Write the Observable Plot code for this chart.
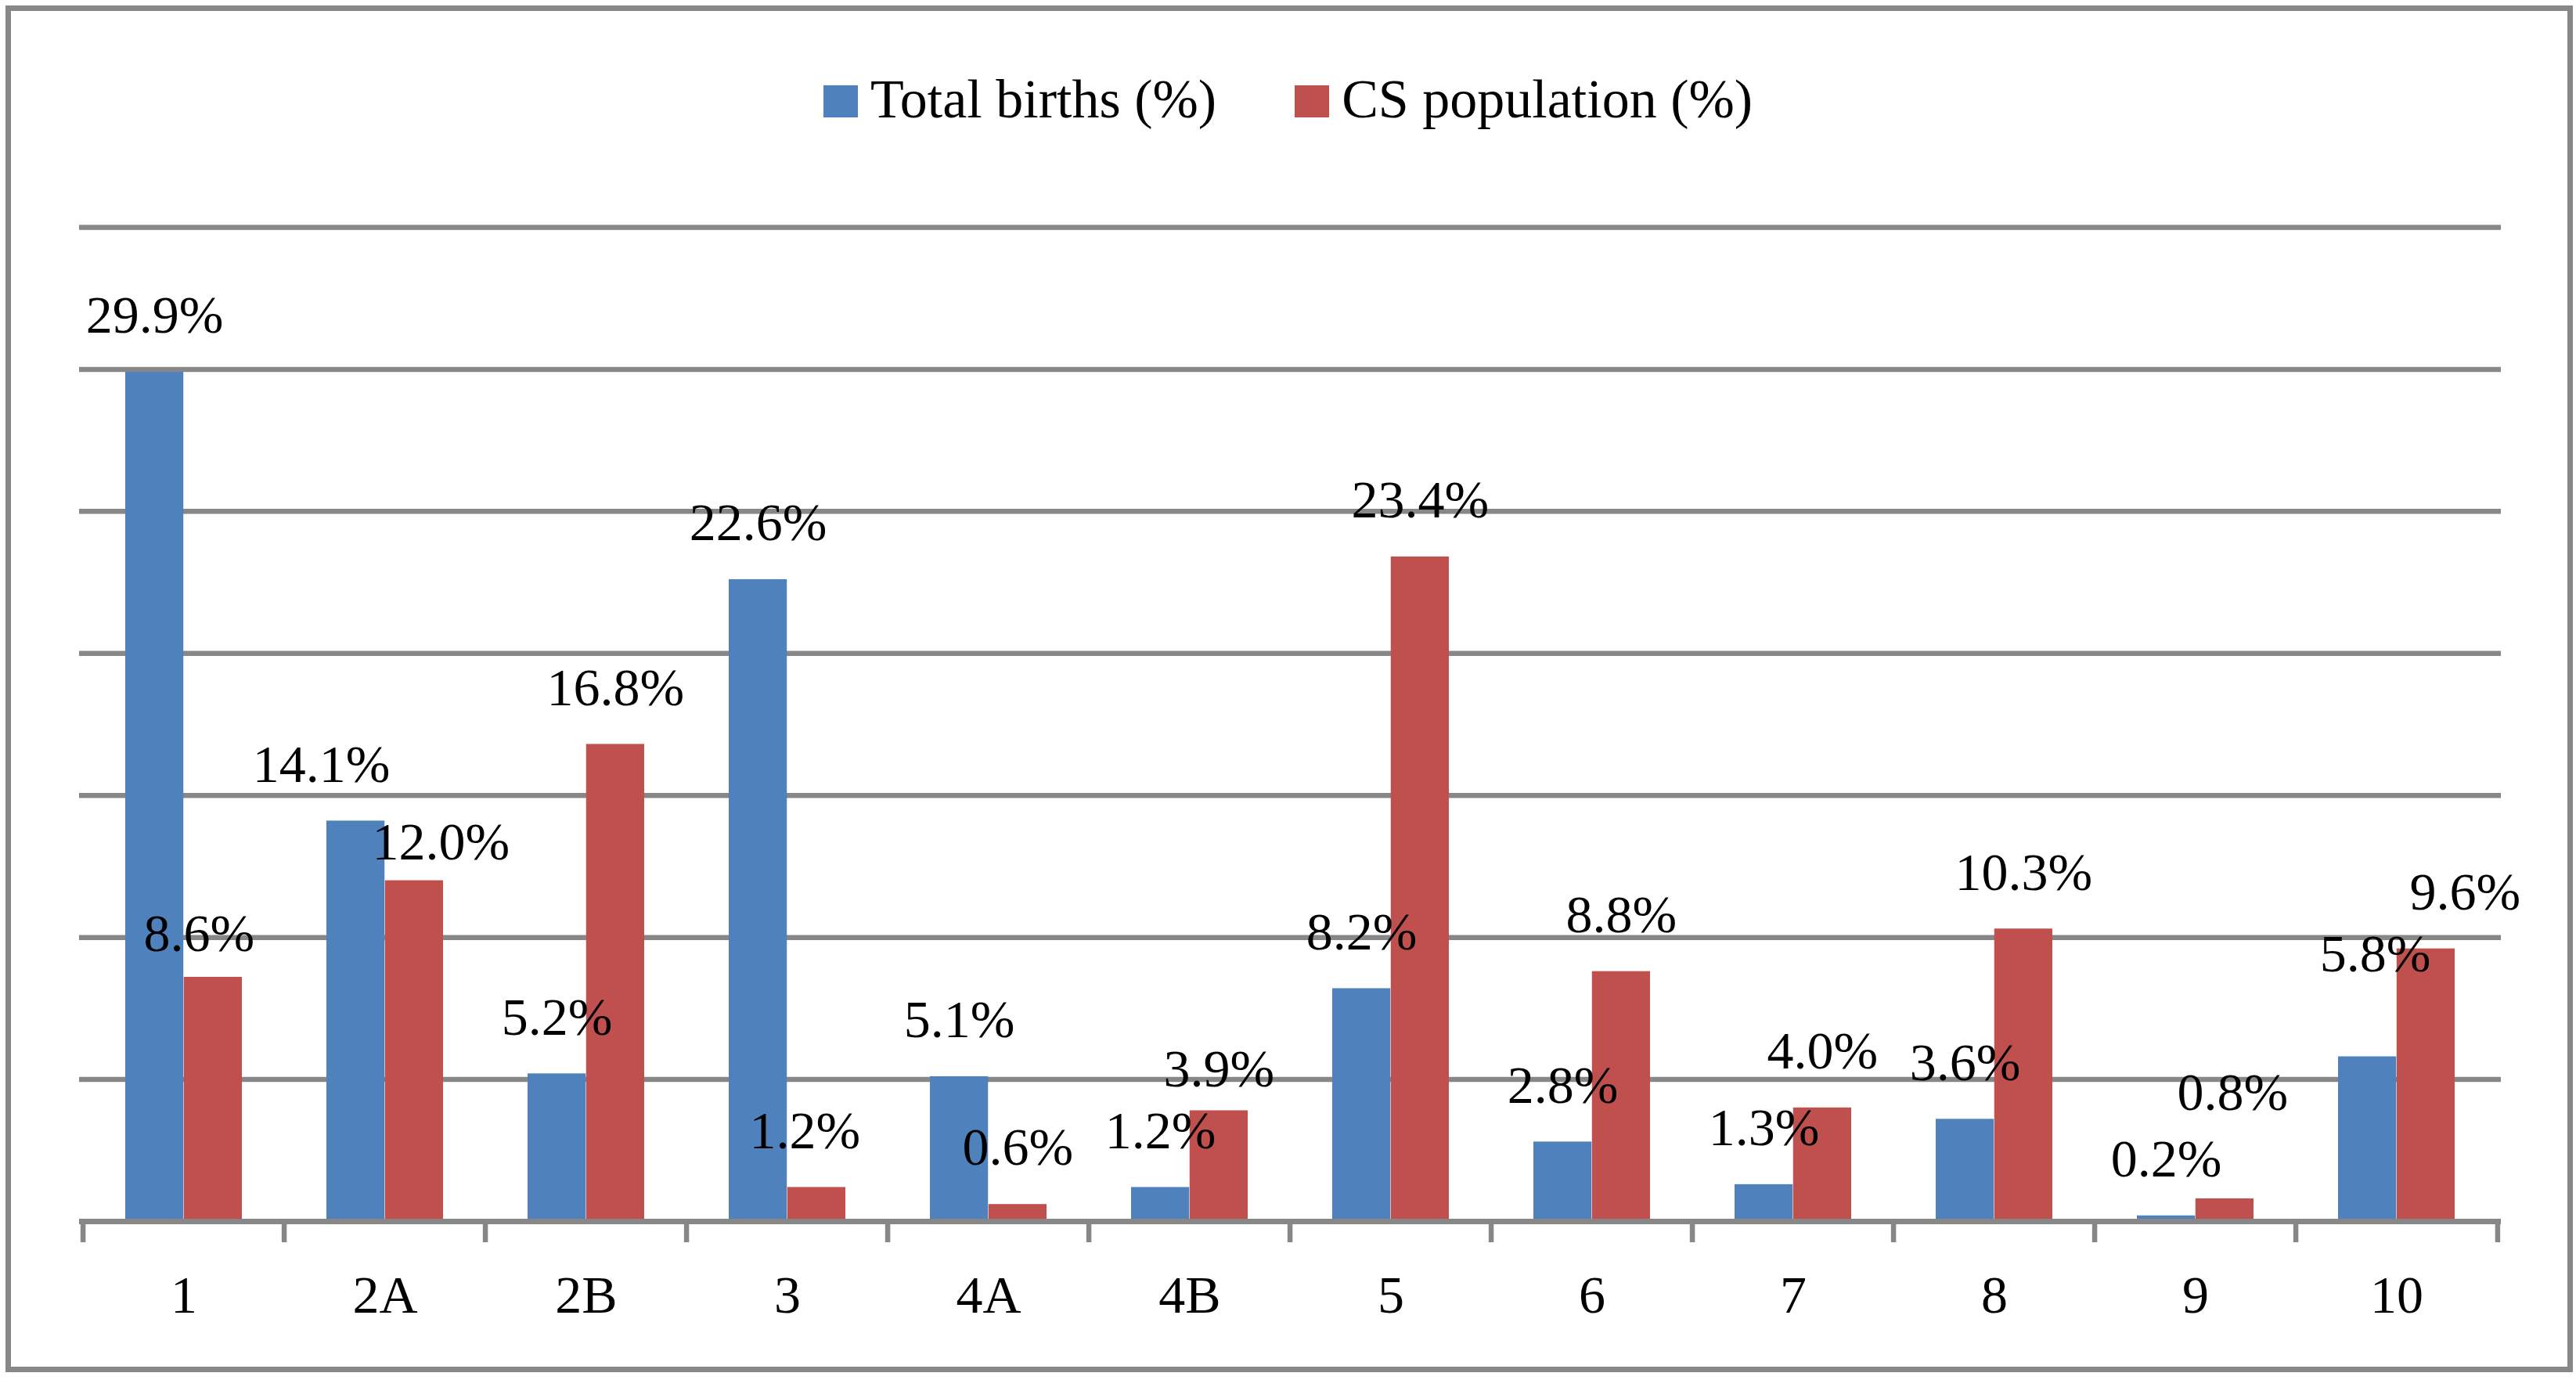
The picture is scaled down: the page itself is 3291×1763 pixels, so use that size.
<!DOCTYPE html>
<html>
<head>
<meta charset="utf-8">
<script src="https://cdn.jsdelivr.net/npm/d3@7"></script>
<script src="https://cdn.jsdelivr.net/npm/@observablehq/plot@0.6"></script>
<style>
html, body { margin: 0; padding: 0; background: #fff; }
#wrap { position: relative; width: 3291px; height: 1763px; background: #fff; font-family: "Liberation Serif", serif; overflow: hidden; }
#frame { position: absolute; left: 7px; top: 7px; width: 3280px; height: 1746px; border: 7px solid #878787; box-sizing: border-box; pointer-events: none; }
#legend { position: absolute; top: 92px; left: 0; width: 3291px; text-align: center; font-size: 70px; line-height: 1; color: #000; white-space: nowrap; }
#legend .sw { display: inline-block; width: 44px; height: 41px; margin-right: 16px; }
#legend .item2 { margin-left: 100px; }
#chart { position: absolute; left: 0; top: 250px; }
</style>
</head>
<body>
<div id="wrap">
  <div id="legend"></div>
  <div id="chart"></div>
  <div id="frame"></div>
</div>
<script>
// ---- data ----
const categories = ["1", "2A", "2B", "3", "4A", "4B", "5", "6", "7", "8", "9", "10"];
const totalBirths = [29.9, 14.1, 5.2, 22.6, 5.1, 1.2, 8.2, 2.8, 1.3, 3.6, 0.2, 5.8];
const csPopulation = [8.6, 12.0, 16.8, 1.2, 0.6, 3.9, 23.4, 8.8, 4.0, 10.3, 0.8, 9.6];
const seriesNames = ["Total births (%)", "CS population (%)"];
const gridValues = [5, 10, 15, 20, 25, 30, 35];

// ---- styling / layout ----
const colors = ["#4F81BD", "#C0504D"];
const gridColor = "#878787";
const W = 3291, H = 1513;
const mL = 101, mR = 96, mT = 40, mB = 203;
const padIn = 0.42;
const step = (W - mL - mR) / categories.length;
const bw = step * (1 - padIn);
const plotH = H - mT - mB;
const labelDy = -72;
// manual label nudges (as in the original, where some labels were moved by hand) [dx, dy]
const nudges = {
  "births|2A": [-44, 0],
  "births|10": [10, -59],
  "cs|1": [-18, 17],
  "cs|2A": [34, 23],
  "cs|3": [-15, 0],
  "cs|4B": [0, 19],
  "cs|9": [10, -63],
  "cs|10": [50, 0]
};
const nd = (s, c, k) => (nudges[s + "|" + c] || [0, 0])[k];
const fmt = v => v.toFixed(1) + "%";

const rows = categories.map((c, i) => ({category: c, births: totalBirths[i], cs: csPopulation[i]}));

// legend
const legend = document.getElementById("legend");
legend.innerHTML = seriesNames.map((n, i) =>
  `<span class="item${i ? " item2" : ""}"><span class="sw" style="background:${colors[i]}"></span>${n}</span>`
).join("");

const chart = Plot.plot({
  width: W,
  height: H,
  marginLeft: mL,
  marginRight: mR,
  marginTop: mT,
  marginBottom: mB,
  style: {fontFamily: "'Liberation Serif', serif", fontSize: "68px", color: "#000", background: "#fff", overflow: "visible"},
  x: {type: "band", domain: categories, paddingInner: padIn, paddingOuter: padIn / 2, label: null, tickSize: 0, tickPadding: 68},
  y: {domain: [0, 35], axis: null},
  marks: [
    Plot.ruleY(gridValues, {stroke: gridColor, strokeWidth: 6.5}),
    Plot.barY(rows, {x: "category", y: "births", fill: colors[0], insetRight: bw / 2}),
    Plot.barY(rows, {x: "category", y: "cs", fill: colors[1], insetLeft: bw / 2}),
    Plot.ruleY([0], {stroke: gridColor, strokeWidth: 7}),
    Plot.ruleX(rows, {x: "category", dx: -step / 2, stroke: gridColor, strokeWidth: 6.5, insetTop: plotH - 3, insetBottom: -27}),
    Plot.ruleX(rows.slice(-1), {x: "category", dx: step / 2, stroke: gridColor, strokeWidth: 6.5, insetTop: plotH - 3, insetBottom: -27}),
    ...rows.map(d => Plot.text([d], {x: "category", y: "births", text: r => fmt(r.births),
      dx: -bw / 4 + nd("births", d.category, 0), dy: labelDy + nd("births", d.category, 1), fontSize: 68, fill: "#000"})),
    ...rows.map(d => Plot.text([d], {x: "category", y: "cs", text: r => fmt(r.cs),
      dx: bw / 4 + nd("cs", d.category, 0), dy: labelDy + nd("cs", d.category, 1), fontSize: 68, fill: "#000"}))
  ]
});
document.getElementById("chart").appendChild(chart);
</script>
</body>
</html>
